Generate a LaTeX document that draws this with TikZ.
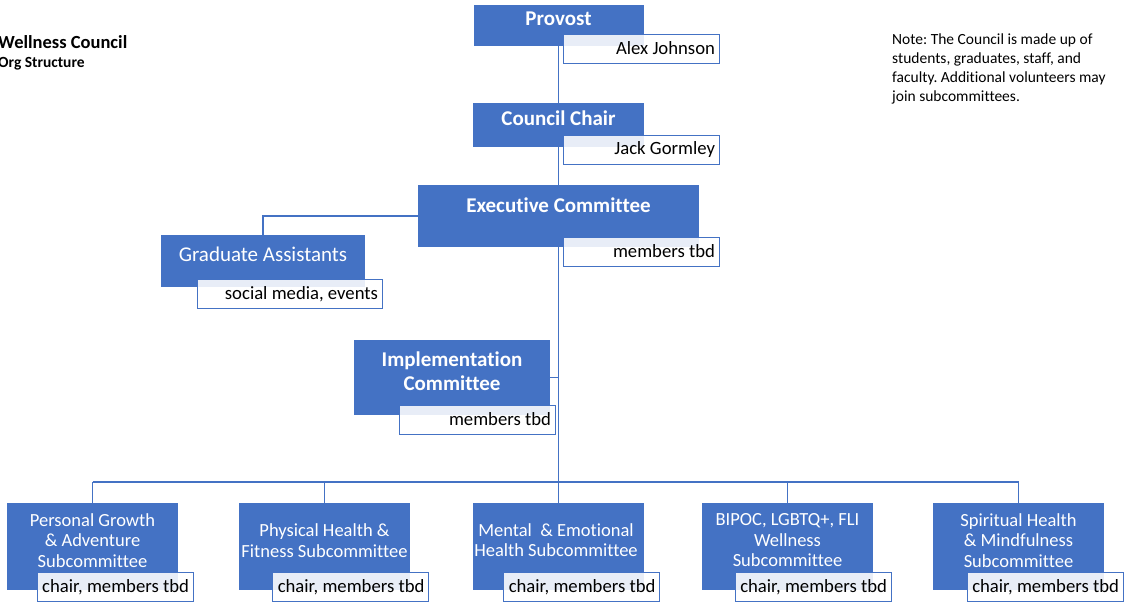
\documentclass[tikz,border=0pt]{standalone}
\usepackage{fontspec}
\setmainfont{Carlito}[Ligatures=NoCommon]
\frenchspacing
\definecolor{officeblue}{HTML}{4472C4}
\tikzstyle{unit} = [rectangle, fill=officeblue, draw=none, inner sep=0pt]
\tikzstyle{namebox} = [rectangle, draw=officeblue, line width=1pt, fill=white, fill opacity=0.88, text opacity=1, text width=148pt, align=flush right, minimum height=29pt, inner xsep=4pt, inner ysep=0pt, font=\fontsize{18.7}{20}\selectfont]
\tikzstyle{headtext} = [text=white, align=center, inner sep=0pt, font=\fontsize{21}{24}\selectfont\bfseries]
\tikzstyle{subtext} = [text=white, align=center, inner sep=0pt, font=\fontsize{18.5}{20.5}\selectfont]
\tikzstyle{line} = [draw=officeblue, line width=1.5pt]

\begin{document}
\begin{tikzpicture}[x=1pt, y=-1pt]
\useasboundingbox (0,0) rectangle (1125,605);

\node (title) [anchor=base west, inner sep=0pt, font=\fontsize{18.5}{20}\selectfont\bfseries] at (-2,48) {Wellness Council};
\node (subtitle) [anchor=base west, inner sep=0pt, font=\fontsize{15.5}{17}\selectfont\bfseries] at (-2,67) {Org Structure};
\node (note) [anchor=north west, inner sep=0pt, align=left, font=\fontsize{15.5}{18.7}\selectfont] at (892,34) {Note: The Council is made up of\\students, graduates, staff, and\\faculty. Additional volunteers may\\join subcommittees.};

\node (provost) [unit, minimum width=170pt, minimum height=41pt] at (558.5,25.5) {};
\node (council) [unit, minimum width=171pt, minimum height=44pt] at (558.5,125) {};
\node (exec) [unit, minimum width=281pt, minimum height=62pt] at (558.5,216) {};
\node (grad) [unit, minimum width=204pt, minimum height=52pt] at (263,261) {};
\node (impl) [unit, minimum width=196pt, minimum height=75pt] at (452,377.5) {};

\node (personal) [unit, minimum width=171pt, minimum height=87pt] at (92.5,546.5) {};
\node (physical) [unit, minimum width=171pt, minimum height=87pt] at (324.5,546.5) {};
\node (mental) [unit, minimum width=171pt, minimum height=87pt] at (558.5,546.5) {};
\node (bipoc) [unit, minimum width=171pt, minimum height=87pt] at (787.5,546.5) {};
\node (spiritual) [unit, minimum width=171pt, minimum height=87pt] at (1018.5,546.5) {};

\node (provostTitle) [headtext] at (558.5,19) {Provost};
\node (councilTitle) [headtext] at (558.5,118) {Council Chair};
\node (execTitle) [headtext] at (558.5,205) {Executive Committee};
\node (gradTitle) [headtext, font=\fontsize{21}{24}\selectfont] at (263,254) {Graduate Assistants};
\node (implTitle) [headtext] at (452,371) {Implementation\\Committee};

\node (personalTitle) [subtext] at (92.5,540.5) {Personal Growth\\\& Adventure\\Subcommittee};
\node (physicalTitle) [subtext] at (324.5,540.5) {Physical Health \&\\Fitness Subcommittee};
\node (mentalTitle) [subtext] at (556,540) {Mental\ \ \& Emotional\\Health Subcommittee};
\node (bipocTitle) [subtext] at (787.5,540.5) {BIPOC, LGBTQ+, FLI\\Wellness\\Subcommittee};
\node (spiritualTitle) [subtext] at (1018.5,540.5) {Spiritual Health\\\& Mindfulness\\Subcommittee};

\node (provostName) [namebox] at (641,48.5) {Alex Johnson};
\node (councilName) [namebox] at (641,150) {Jack Gormley};
\node (execName) [namebox] at (641,251.5) {members tbd};
\node (gradName) [namebox, text width=177pt] at (289.5,294) {social media, events};
\node (implName) [namebox] at (477,419.5) {members tbd};

\node (personalName) [namebox] at (115,587) {chair, members tbd};
\node (physicalName) [namebox] at (350.5,587) {chair, members tbd};
\node (mentalName) [namebox] at (581.5,587) {chair, members tbd};
\node (bipocName) [namebox] at (813,587) {chair, members tbd};
\node (spiritualName) [namebox] at (1045,587) {chair, members tbd};

\coordinate (bar) at (558.5,482);

\draw [line] (provost) -- (council);
\draw [line] (council) -- (exec);
\draw [line] (exec.west) -| (grad.north);
\draw [line] (exec.south) -- (mental.north);
\draw [line] (impl.east) -- (impl.east -| exec.south);

\draw [line] (bar -| personal) -- (bar -| spiritual);
\draw [line] (bar -| personal) -- (personal.north);
\draw [line] (bar -| physical) -- (physical.north);
\draw [line] (bar -| bipoc) -- (bipoc.north);
\draw [line] (bar -| spiritual) -- (spiritual.north);

\end{tikzpicture}
\end{document}
